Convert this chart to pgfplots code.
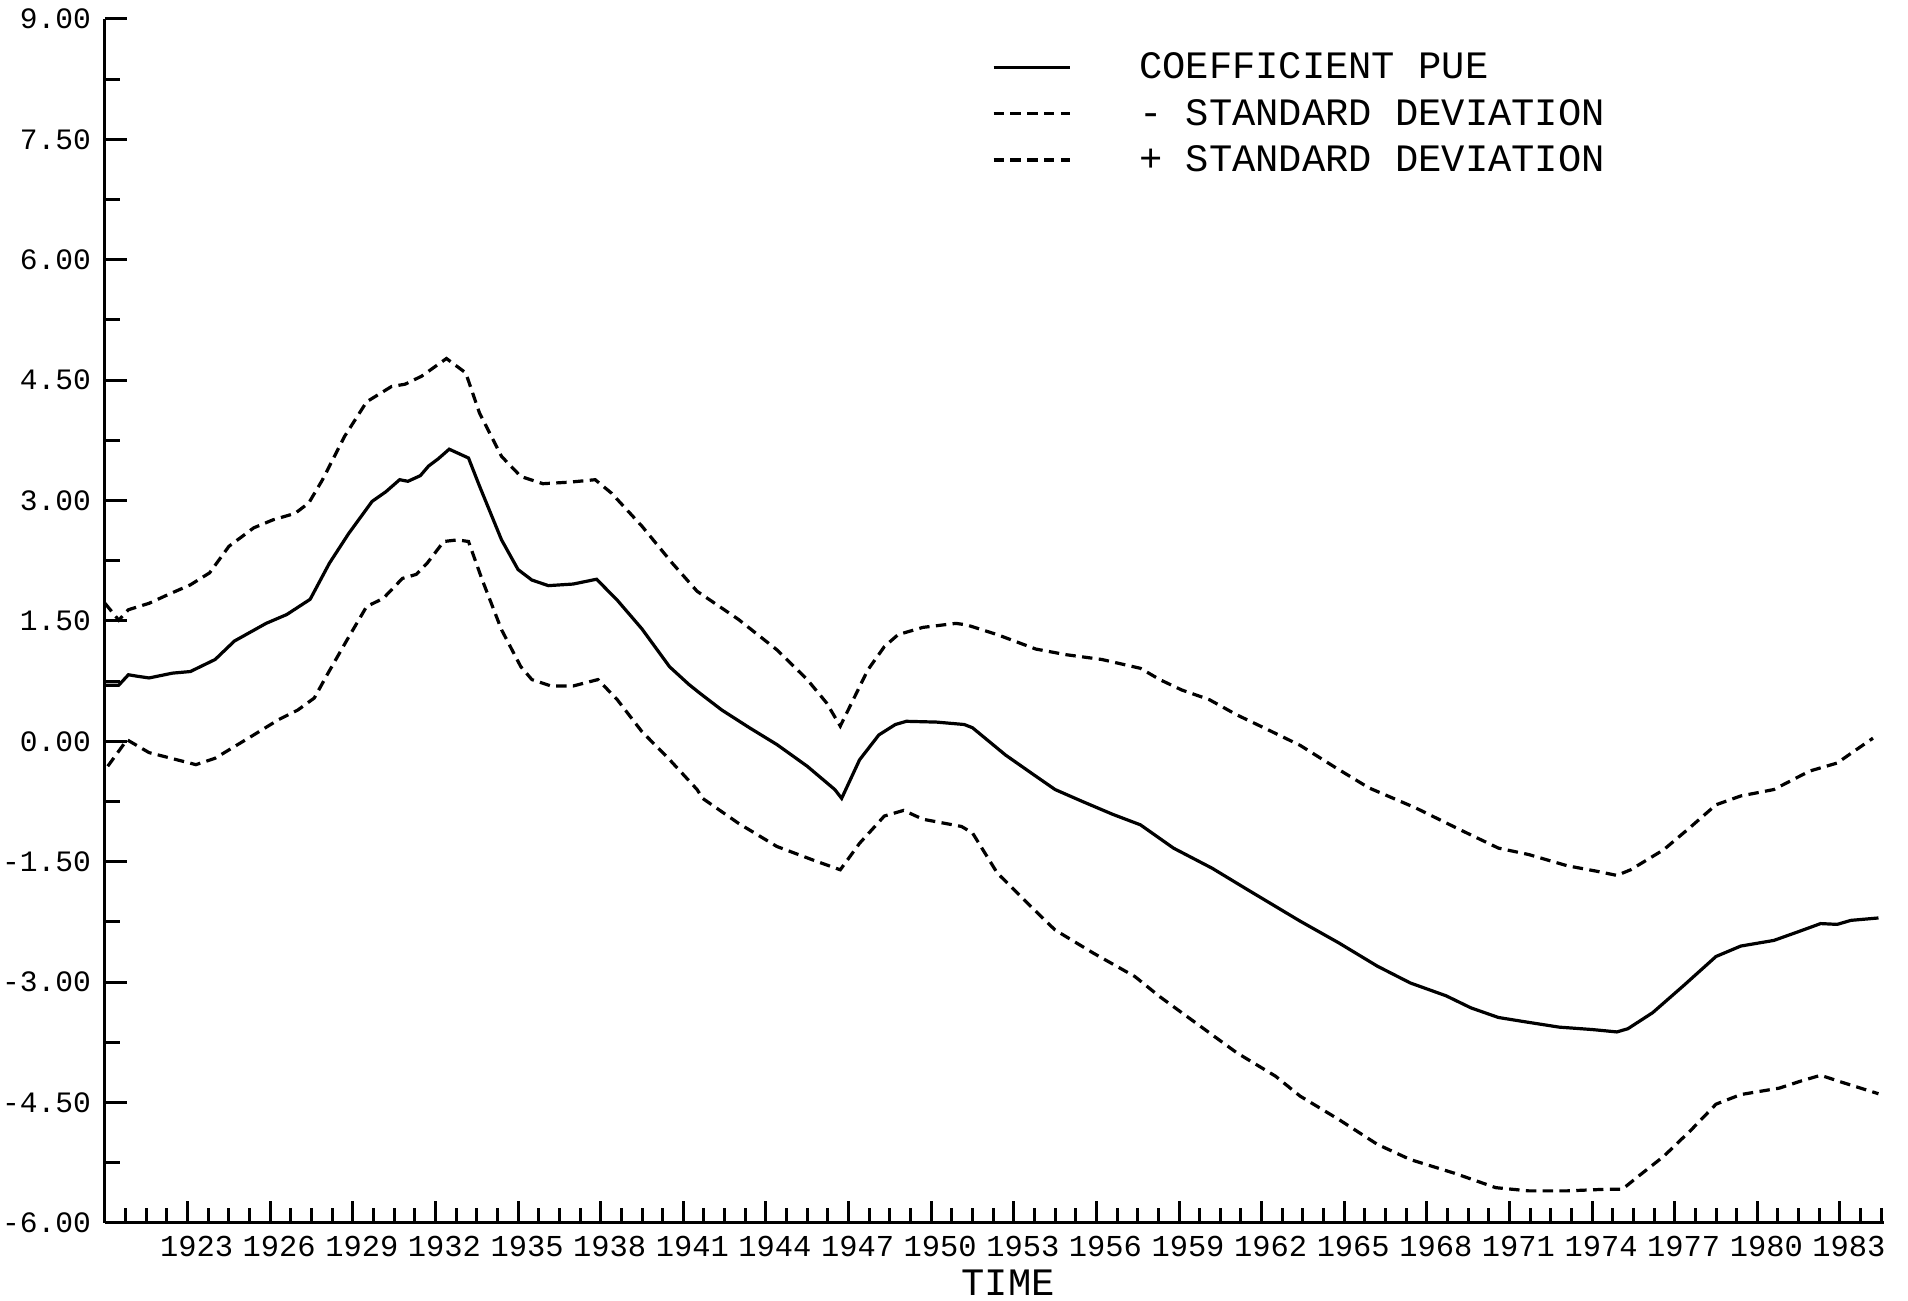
\documentclass[border=0pt]{standalone}
\usepackage{fontspec}
\setmainfont{Liberation Mono}
\usepackage{pgfplots}
\usepackage{pgfplotstable}
\pgfplotsset{compat=1.18}

\pgfplotstableread{
yr v
1920.0 0.70
1920.5 0.70
1920.85 0.83
1921.2 0.81
1921.6 0.79
1922.45 0.85
1923.1 0.87
1924.0 1.02
1924.7 1.25
1925.85 1.47
1926.6 1.58
1927.45 1.77
1928.15 2.22
1928.85 2.59
1929.7 2.99
1930.2 3.11
1930.7 3.26
1931.0 3.24
1931.45 3.31
1931.75 3.43
1932.1 3.52
1932.5 3.64
1933.2 3.53
1933.6 3.18
1934.4 2.51
1935.0 2.14
1935.5 2.01
1936.1 1.94
1937.0 1.96
1937.85 2.02
1938.6 1.76
1939.5 1.40
1940.5 0.93
1941.2 0.71
1941.6 0.60
1942.4 0.39
1943.4 0.17
1944.4 -0.04
1945.5 -0.31
1946.5 -0.60
1946.75 -0.71
1947.4 -0.23
1948.1 0.08
1948.7 0.21
1949.1 0.25
1950.2 0.24
1951.2 0.21
1951.5 0.17
1952.7 -0.17
1953.7 -0.41
1954.5 -0.60
1955.5 -0.75
1956.6 -0.91
1957.6 -1.04
1958.8 -1.33
1960.2 -1.58
1961.5 -1.85
1963.4 -2.24
1964.8 -2.51
1966.2 -2.80
1967.4 -3.01
1968.7 -3.17
1969.6 -3.32
1970.6 -3.44
1971.5 -3.49
1972.8 -3.56
1974.0 -3.59
1974.9 -3.62
1975.3 -3.58
1976.2 -3.38
1977.3 -3.05
1978.5 -2.68
1979.4 -2.55
1980.6 -2.48
1981.5 -2.37
1982.3 -2.27
1982.9 -2.28
1983.4 -2.23
1984.4 -2.20
}\meantab

\pgfplotstableread{
yr v
1920.1 -0.31
1920.8 0.02
1921.6 -0.14
1923.3 -0.29
1924.0 -0.21
1925.4 0.08
1926.3 0.27
1927.0 0.39
1927.6 0.54
1928.1 0.85
1928.8 1.27
1929.5 1.68
1930.1 1.78
1930.8 2.03
1931.3 2.08
1931.7 2.22
1932.3 2.49
1932.8 2.51
1933.2 2.49
1933.7 2.01
1934.4 1.39
1935.1 0.93
1935.5 0.77
1936.2 0.69
1937.0 0.69
1937.9 0.77
1938.6 0.52
1939.5 0.12
1940.4 -0.19
1941.5 -0.60
1941.7 -0.71
1943.0 -1.02
1944.4 -1.31
1945.8 -1.49
1946.7 -1.60
1947.4 -1.27
1948.3 -0.93
1949.0 -0.86
1949.7 -0.97
1951.1 -1.06
1951.5 -1.14
1952.4 -1.64
1953.6 -2.05
1954.5 -2.35
1955.9 -2.64
1957.4 -2.93
1958.3 -3.18
1959.7 -3.53
1961.1 -3.88
1962.5 -4.17
1963.4 -4.42
1964.8 -4.71
1966.2 -5.02
1967.4 -5.21
1969.0 -5.38
1970.5 -5.56
1971.7 -5.60
1973.1 -5.60
1974.5 -5.58
1975.1 -5.58
1975.6 -5.44
1976.6 -5.17
1977.6 -4.84
1978.5 -4.52
1979.4 -4.40
1980.8 -4.32
1981.6 -4.23
1982.3 -4.16
1983.1 -4.25
1984.4 -4.39
}\lowtab

\pgfplotstableread{
yr v
1920.0 1.72
1920.5 1.51
1920.85 1.64
1921.6 1.72
1922.3 1.83
1923.1 1.95
1923.8 2.10
1924.5 2.43
1925.4 2.66
1926.1 2.76
1926.9 2.84
1927.4 2.97
1927.9 3.26
1928.7 3.80
1929.5 4.23
1930.4 4.42
1930.9 4.45
1931.5 4.55
1932.4 4.77
1933.1 4.59
1933.6 4.09
1934.4 3.55
1935.1 3.30
1935.9 3.21
1936.9 3.23
1937.8 3.26
1938.4 3.09
1939.5 2.68
1940.6 2.22
1941.5 1.87
1943.0 1.52
1944.4 1.14
1945.5 0.77
1946.2 0.48
1946.7 0.19
1947.2 0.54
1947.7 0.89
1948.3 1.18
1948.8 1.33
1949.7 1.42
1950.9 1.47
1951.3 1.45
1952.4 1.33
1953.8 1.15
1954.9 1.08
1956.2 1.02
1957.6 0.91
1958.3 0.77
1959.1 0.64
1960.1 0.52
1961.1 0.33
1962.2 0.15
1963.4 -0.05
1964.7 -0.33
1965.9 -0.58
1967.6 -0.83
1969.2 -1.10
1970.6 -1.33
1971.7 -1.41
1973.1 -1.55
1974.2 -1.62
1974.9 -1.67
1975.4 -1.60
1976.6 -1.35
1977.6 -1.06
1978.5 -0.79
1979.4 -0.68
1980.6 -0.60
1981.9 -0.37
1982.9 -0.27
1983.4 -0.15
1984.2 0.04
}\uptab

\begin{document}
\begin{tikzpicture}
\path[use as bounding box] (-26.25pt,-19.5pt) rectangle (450.75pt,305.75pt);
\begin{axis}[
  at={(0pt,0pt)}, anchor=south west,
  scale only axis, width=444.75pt, height=301pt,
  xmin=1920, xmax=1984.6, ymin=-6, ymax=9,
  axis x line=bottom, axis y line=left,
  axis line style={-, line width=0.75pt},
  x axis line style={-}, y axis line style={-},
  tick style={line width=0.75pt, black},
  tick align=inside,
  major tick length=5.5pt, minor tick length=3.75pt,
  xtick={1923,1926,1929,1932,1935,1938,1941,1944,1947,1950,1953,1956,1959,1962,1965,1968,1971,1974,1977,1980,1983},
  xticklabels={1923,1926,1929,1932,1935,1938,1941,1944,1947,1950,1953,1956,1959,1962,1965,1968,1971,1974,1977,1980,1983},
  minor xtick={1920,1920.75,...,1984.6},
  ytick={-6,-4.5,-3,-1.5,0,1.5,3,4.5,6,7.5,9},
  yticklabels={-6.00,-4.50,-3.00,-1.50,0.00,1.50,3.00,4.50,6.00,7.50,9.00},
  minor ytick={-5.25,-3.75,-2.25,-0.75,0.75,2.25,3.75,5.25,6.75,8.25},
  xticklabel style={font=\fontsize{7.6}{9}\selectfont, xshift=2.25pt, yshift=0.3pt},
  yticklabel style={font=\fontsize{7.4}{9}\selectfont},
  xlabel={TIME},
  x label style={at={(axis description cs:0.5076,0)}, anchor=center, yshift=-15pt, font=\fontsize{9.7}{11}\selectfont},
  legend style={at={(axis description cs:0.4986,0.9736)}, anchor=north west,
    draw=none, fill=none, inner sep=0pt, outer sep=0pt,
    font=\fontsize{9.7}{11}\selectfont,
    row sep=4.6pt, column sep=17pt,
    nodes={inner sep=0pt, text height=7pt, text depth=0pt}},
  legend cell align=left,
  legend image code/.code={\draw[#1] (0pt,-0.6pt) -- (19pt,-0.6pt);},
]
\addplot[black, line width=0.8pt] table[x=yr,y=v] {\meantab};
\addlegendentry{COEFFICIENT PUE}
\addplot[black, line width=0.8pt, dash pattern=on 2.6pt off 1.6pt] table[x=yr,y=v] {\lowtab};
\addlegendentry{- STANDARD DEVIATION}
\addplot[black, line width=0.8pt, dash pattern=on 2.6pt off 1.6pt] table[x=yr,y=v] {\uptab};
\addlegendentry{+ STANDARD DEVIATION}
\end{axis}
\end{tikzpicture}
\end{document}
